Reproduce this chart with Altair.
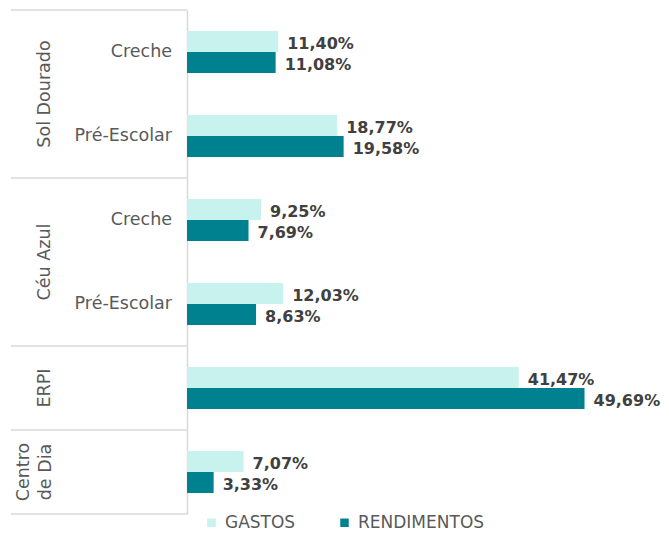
import altair as alt
import pandas as pd

groups = ["Sol Dourado", "Sol Dourado", "Céu Azul", "Céu Azul", "ERPI", "Centro de Dia"]
subs = ["Creche", "Pré-Escolar", "Creche", "Pré-Escolar", "", ""]
gastos = [11.40, 18.77, 9.25, 12.03, 41.47, 7.07]
rendimentos = [11.08, 19.58, 7.69, 8.63, 49.69, 3.33]
series = ["GASTOS", "RENDIMENTOS"]
colors = ["#c8f2ee", "#00818f"]

FONT = "DejaVu Sans"
cats = [f"{g}|{s}" for g, s in zip(groups, subs)]


def fmt(v):
    return f"{v:.2f}".replace(".", ",") + "%"


rows = []
for c, a, b in zip(cats, gastos, rendimentos):
    rows.append(dict(cat=c, serie=series[0], value=a, label=fmt(a)))
    rows.append(dict(cat=c, serie=series[1], value=b, label=fmt(b)))
df = pd.DataFrame(rows)

ysc = alt.Scale(domain=cats, paddingInner=0, paddingOuter=0)
yosc = alt.Scale(domain=series, paddingInner=0, paddingOuter=1)
xsc = alt.Scale(domain=[0, 58.75], nice=False, zero=True)

bars = alt.Chart(df).mark_bar().encode(
    x=alt.X("value:Q", scale=xsc, axis=None),
    y=alt.Y("cat:N", scale=ysc, sort=cats,
            axis=alt.Axis(labels=False, ticks=False, title=None, grid=False,
                          domainColor="#d9d9d9", domainWidth=1.5)),
    yOffset=alt.YOffset("serie:N", scale=yosc, sort=series),
    color=alt.Color("serie:N", scale=alt.Scale(domain=series, range=colors),
                    legend=alt.Legend(orient="none", direction="horizontal",
                                      legendX=16, legendY=504, title=None,
                                      symbolType="square", symbolSize=72,
                                      symbolStrokeWidth=0, symbolOpacity=1,
                                      labelFontSize=17, labelColor="#595959",
                                      labelFont=FONT, columnPadding=40,
                                      labelOffset=5, padding=0)),
)

values = alt.Chart(df).mark_text(
    align="left", baseline="middle", dx=9, dy=2, font=FONT,
    fontWeight="bold", fontSize=16, color="#404040"
).encode(
    x=alt.X("value:Q", scale=xsc),
    y=alt.Y("cat:N", scale=ysc, sort=cats),
    yOffset=alt.YOffset("serie:N", scale=yosc, sort=series),
    text="label:N",
)

sub_df = pd.DataFrame({"cat": [c for c, s in zip(cats, subs) if s],
                       "sub": [s for s in subs if s]})
sub_labels = alt.Chart(sub_df).mark_text(
    align="right", baseline="middle", font=FONT, fontSize=17.5, color="#595959"
).encode(
    x=alt.value(-15),
    y=alt.Y("cat:N", scale=ysc, sort=cats),
    text="sub:N",
)

# groups with two sub-categories: centred on the boundary between them
two_df = pd.DataFrame({"cat": [cats[1], cats[3]], "group": [groups[1], groups[3]]})
two_labels = alt.Chart(two_df).mark_text(
    angle=270, align="center", baseline="middle", font=FONT, fontSize=17.5,
    color="#595959"
).encode(
    x=alt.value(-142),
    y=alt.Y("cat:N", scale=ysc, sort=cats, bandPosition=0),
    text="group:N",
)

one_df = pd.DataFrame({"cat": [cats[4]], "group": [groups[4]]})
one_labels = alt.Chart(one_df).mark_text(
    angle=270, align="center", baseline="middle", font=FONT, fontSize=17.5,
    color="#595959"
).encode(
    x=alt.value(-142),
    y=alt.Y("cat:N", scale=ysc, sort=cats),
    text="group:N",
)

cd_df = pd.DataFrame({"cat": [cats[5]], "group": ["Centro\nde Dia"]})
cd_labels = alt.Chart(cd_df).mark_text(
    angle=270, align="center", baseline="middle", font=FONT, fontSize=17.5,
    color="#595959", lineBreak="\n", lineHeight=22
).encode(
    x=alt.value(-163),
    y=alt.Y("cat:N", scale=ysc, sort=cats),
    text="group:N",
)

top_df = pd.DataFrame({"cat": [cats[0], cats[2], cats[4], cats[5]]})
top_rules = alt.Chart(top_df).mark_rule(color="#d9d9d9", strokeWidth=1.5).encode(
    x=alt.value(-176), x2=alt.value(0),
    y=alt.Y("cat:N", scale=ysc, sort=cats, bandPosition=0),
)
bot_df = pd.DataFrame({"cat": [cats[5]]})
bot_rules = alt.Chart(bot_df).mark_rule(color="#d9d9d9", strokeWidth=1.5).encode(
    x=alt.value(-176), x2=alt.value(0),
    y=alt.Y("cat:N", scale=ysc, sort=cats, bandPosition=1),
)

chart = alt.layer(
    top_rules, bot_rules, bars, values, sub_labels, two_labels, one_labels, cd_labels
).properties(
    width=470, height=504,
    autosize=alt.AutoSizeParams(type="none"),
    padding={"left": 179, "top": 2, "right": 4, "bottom": 19},
).configure(background="white").configure_view(stroke=None, strokeWidth=0)

chart.save("out.html", embed_options={"renderer": "svg", "actions": False})
